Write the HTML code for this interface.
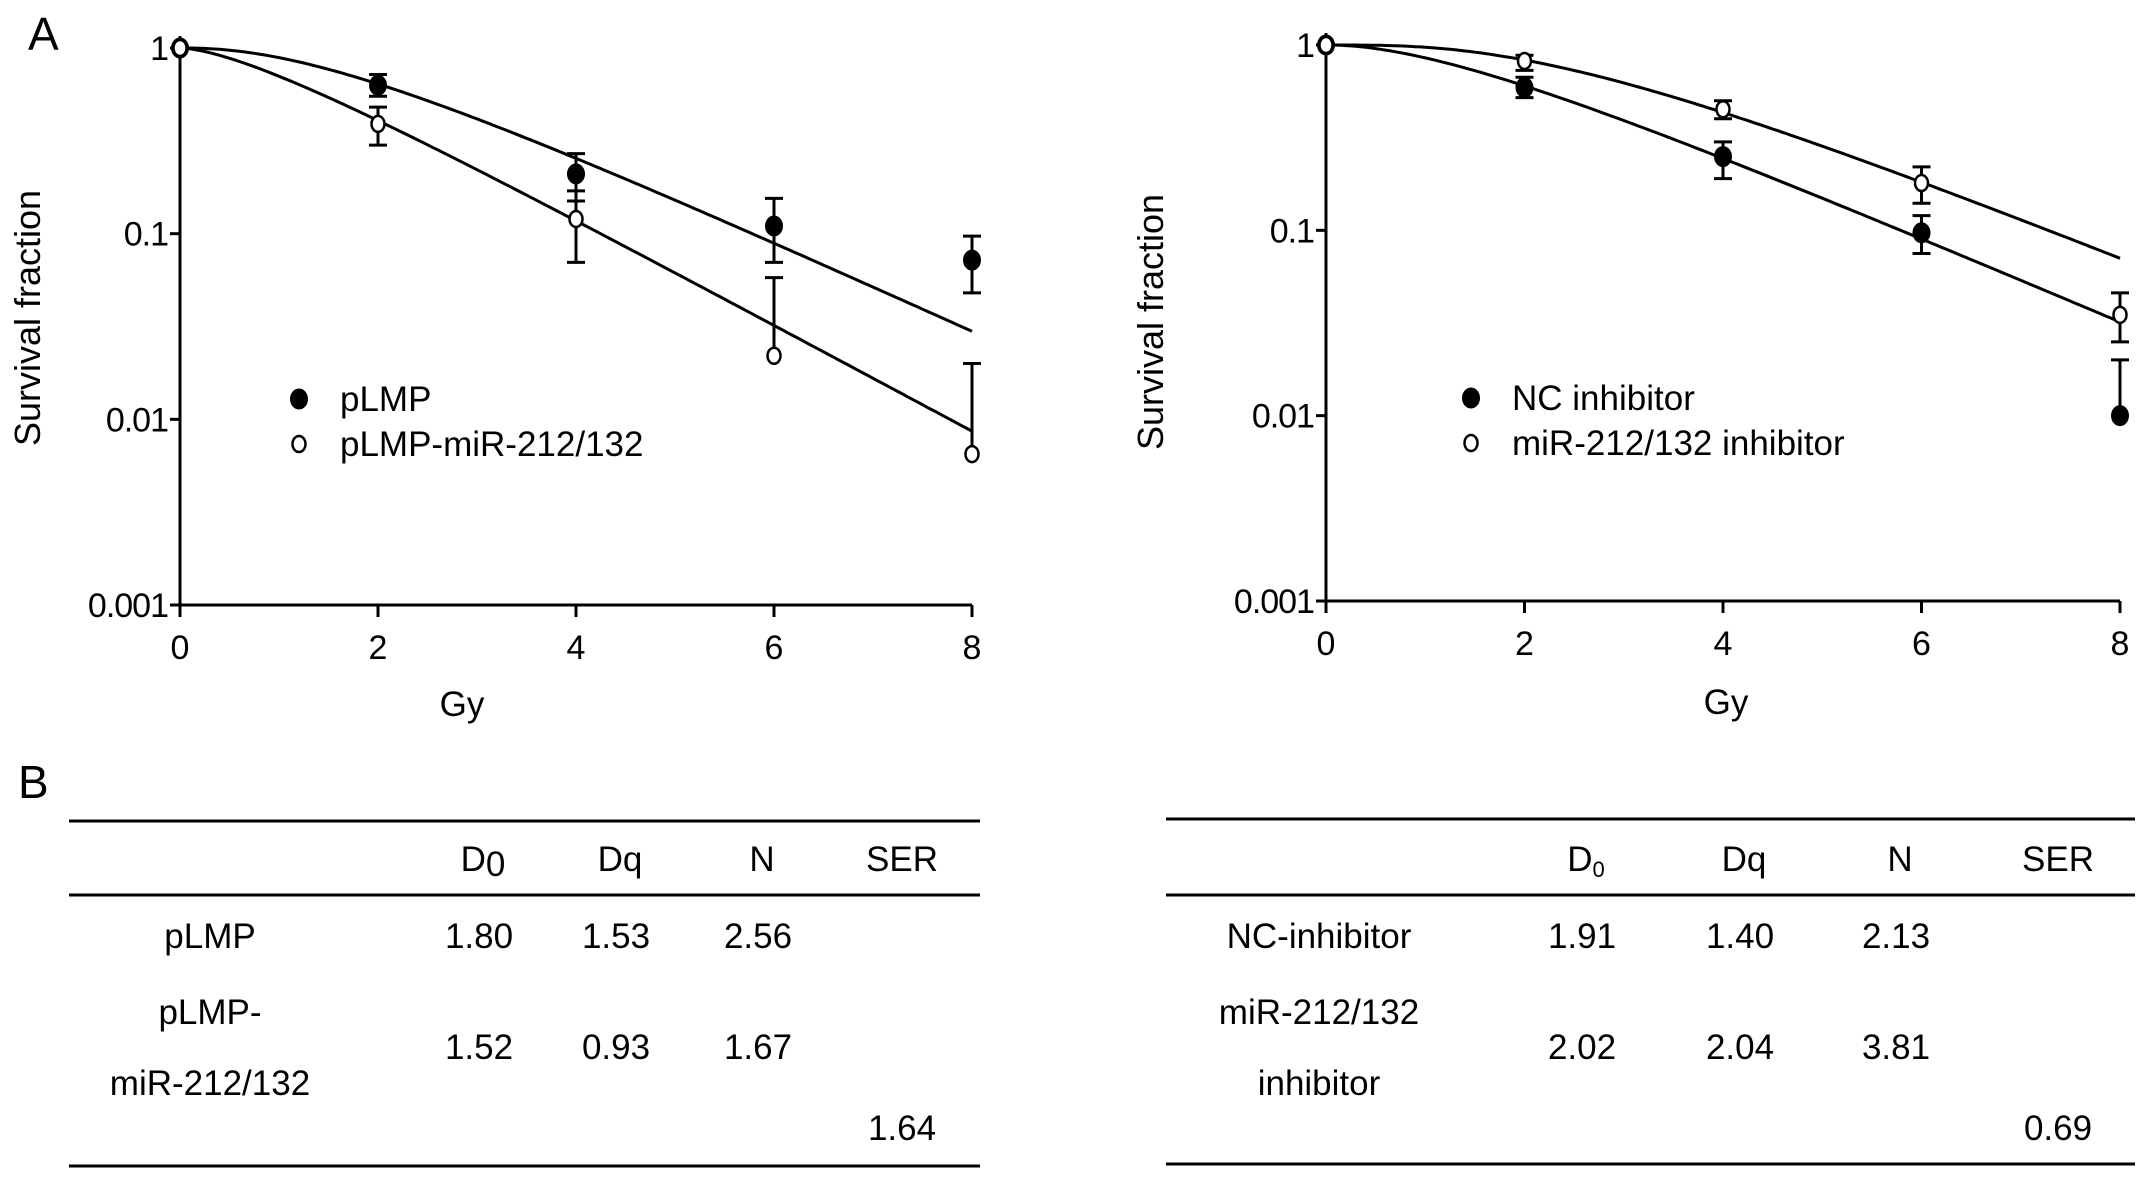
<!DOCTYPE html>
<html><head><meta charset="utf-8"><style>
html,body{margin:0;padding:0;background:#fff}
svg{display:block;font-family:"Liberation Sans",Arial,sans-serif}
</style></head><body>
<svg id="fig" width="2150" height="1178" viewBox="0 0 2150 1178">
<text x="28" y="50" font-size="46">A</text>
<text x="18" y="798" font-size="46">B</text>
<g id="tables" font-size="35" text-anchor="middle"></g>
</svg>
<script>
// ---- chart data ----
const doses = [0, 2, 4, 6, 8];
const xTicks = [0, 2, 4, 6, 8];
const yTicks = [1, 0.1, 0.01, 0.001];
const yTickLabels = ["1", "0.1", "0.01", "0.001"];
// Left panel
const leftNames = ["pLMP", "pLMP-miR-212/132"];
const pLMP = [1, 0.63, 0.21, 0.11, 0.072];
const pLMPHi = [null, 0.72, 0.27, 0.155, 0.097];
const pLMPLo = [null, 0.55, 0.15, 0.07, 0.048];
const pLMPmiR = [1, 0.39, 0.12, 0.022, 0.0065];
const pLMPmiRHi = [null, 0.48, 0.17, 0.058, 0.020];
const pLMPmiRLo = [null, 0.30, 0.07, null, null];
const leftD0 = [1.80, 1.52];
const leftN = [2.56, 1.67];
// Right panel
const rightNames = ["NC inhibitor", "miR-212/132 inhibitor"];
const nc = [1, 0.59, 0.25, 0.097, 0.010];
const ncHi = [null, 0.67, 0.30, 0.12, 0.020];
const ncLo = [null, 0.52, 0.19, 0.075, null];
const inh = [1, 0.82, 0.45, 0.18, 0.035];
const inhHi = [null, 0.88, 0.50, 0.22, 0.046];
const inhLo = [null, 0.73, 0.40, 0.14, 0.025];
const rightD0 = [1.91, 2.02];
const rightN = [2.13, 3.81];

const NS = "http://www.w3.org/2000/svg";
const svg = document.getElementById('fig');
function mk(tag, attrs, parent, text){
  const e = document.createElementNS(NS, tag);
  for (const k in attrs) e.setAttribute(k, attrs[k]);
  if (text !== undefined) e.textContent = text;
  (parent || svg).appendChild(e);
  return e;
}

function panel(cfg){
  const g = mk('g', {});
  
  
  const X = d => cfg.x0 + (cfg.x1 - cfg.x0) * d / 8;
  const Y = v => cfg.y1 + (cfg.y3 - cfg.y1) * (-Math.log10(v)) / 3;
  const ax = mk('line', {x1: cfg.x0, y1: cfg.y1 - 12, x2: cfg.x0, y2: Y(0.001), stroke: '#000', 'stroke-width': 3}, g);
  
  
  const bx = mk('line', {x1: cfg.x0 - 10, y1: Y(0.001), x2: cfg.x1, y2: Y(0.001), stroke: '#000', 'stroke-width': 3}, g);
  
  
  yTicks.forEach((t, i) => {
    mk('line', {x1: cfg.x0 - 10, y1: Y(t), x2: cfg.x0, y2: Y(t), stroke: '#000', 'stroke-width': 3}, g);
    const tl = mk('text', {x: cfg.x0 - 12, y: Y(t) + 12, 'font-size': 34, 'text-anchor': 'end', 'letter-spacing': '-1'}, g, yTickLabels[i]);
    
    
  });
  xTicks.forEach(t => {
    mk('line', {x1: X(t), y1: Y(0.001), x2: X(t), y2: Y(0.001) + 12, stroke: '#000', 'stroke-width': 3}, g);
    const tl = mk('text', {x: X(t), y: Y(0.001) + 54, 'font-size': 34, 'text-anchor': 'middle'}, g, String(t));
    
    
  });
  const xt = mk('text', {x: cfg.gyX, y: cfg.gyY, 'font-size': 35, 'text-anchor': 'middle'}, g, 'Gy');
  
  
  const yt = mk('text', {x: 0, y: 0, 'font-size': 36, 'text-anchor': 'middle', transform: `translate(${cfg.ytX},${cfg.ytY}) rotate(-90)`}, g, 'Survival fraction');
  
  
  cfg.series.forEach((s, si) => {
    let d = '';
    for (let k = 0; k <= 160; k++) {
      const dose = 8 * k / 160;
      const v = 1 - Math.pow(1 - Math.exp(-dose / s.D0), s.N);
      d += (k ? 'L' : 'M') + X(dose).toFixed(1) + ' ' + Y(Math.max(v, 1e-4)).toFixed(1);
    }
    const p = mk('path', {d: d, fill: 'none', stroke: '#000', 'stroke-width': 3}, g);
    
    
  });
  cfg.series.forEach((s, si) => {
    s.vals.forEach((v, i) => {
      const x = X(doses[i]);
      const hi = s.hi[i], lo = s.lo[i];
      if (hi !== null || lo !== null) {
        const top = hi !== null ? Y(hi) : Y(v);
        const bot = lo !== null ? Y(lo) : Y(v);
        const eb = mk('path', {d: `M${x} ${top}L${x} ${bot}` + (hi !== null ? `M${x - 9} ${top}L${x + 9} ${top}` : '') + (lo !== null ? `M${x - 9} ${bot}L${x + 9} ${bot}` : ''), stroke: '#000', 'stroke-width': 3, fill: 'none'}, g);
        
        
      }
      const c = mk('ellipse', {cx: x, cy: Y(v), rx: s.open ? 6.5 : 8.5, ry: s.open ? 8 : 10, fill: s.open ? '#fff' : '#000', stroke: '#000', 'stroke-width': s.open ? 2.5 : 1}, g);
      
      
    });
  });
  cfg.series.forEach((s, si) => {
    const ly = cfg.legY + si * 45;
    const m = mk('ellipse', {cx: cfg.legX, cy: ly, rx: s.open ? 6.5 : 8.5, ry: s.open ? 8 : 10, fill: s.open ? '#fff' : '#000', stroke: '#000', 'stroke-width': s.open ? 2.5 : 1}, g);
    
    
    const t = mk('text', {x: cfg.legX + 41, y: ly + 12, 'font-size': 35}, g, s.label);
    
    
  });
}

panel({name: 'left-survival-chart', x0: 180, x1: 972, y1: 48, y3: 605, gyX: 462, gyY: 716, ytX: 40, ytY: 318, legX: 299, legY: 399,
  series: [
    {label: leftNames[0], vals: pLMP, hi: pLMPHi, lo: pLMPLo, D0: leftD0[0], N: leftN[0], open: false},
    {label: leftNames[1], vals: pLMPmiR, hi: pLMPmiRHi, lo: pLMPmiRLo, D0: leftD0[1], N: leftN[1], open: true}]});
panel({name: 'right-survival-chart', x0: 1326, x1: 2120, y1: 45, y3: 601, gyX: 1726, gyY: 714, ytX: 1163, ytY: 322, legX: 1471, legY: 398,
  series: [
    {label: rightNames[0], vals: nc, hi: ncHi, lo: ncLo, D0: rightD0[0], N: rightN[0], open: false},
    {label: rightNames[1], vals: inh, hi: inhHi, lo: inhLo, D0: rightD0[1], N: rightN[1], open: true}]});

// ---- tables ----
const tg = document.getElementById('tables');
function T(x, y, s, name){
  const t = mk('text', {x: x, y: y}, tg, s);
  
  
  return t;
}
function L(x1, x2, y, name){
  const l = mk('line', {x1: x1, x2: x2, y1: y, y2: y, stroke: '#000', 'stroke-width': 3}, tg);
  
  
}
function table(o){
  L(o.xa, o.xb, o.yTop, 'table-top-rule');
  L(o.xa, o.xb, o.yMid, 'table-header-rule');
  L(o.xa, o.xb, o.yBot, 'table-bottom-rule');
  const h = T(o.cols[0], 871, 'D', 'header-d0');
  mk('tspan', {'font-size': o.subSize, dy: o.subDy}, h, '0');
  T(o.cols[1], 871, 'Dq', 'header-dq');
  T(o.cols[2], 871, 'N', 'header-n');
  T(o.cols[3], 871, 'SER', 'header-ser');
  T(o.labX, 948, o.r1, 'row-label');
  o.v1.forEach((v, i) => T(o.cols[i] - 4, 948, v, 'cell-value'));
  T(o.labX, 1024, o.r2a, 'row-label');
  T(o.labX, 1095, o.r2b, 'row-label');
  o.v2.forEach((v, i) => T(o.cols[i] - 4, 1059, v, 'cell-value'));
  T(o.cols[3], 1140, o.ser, 'ser-value');
}
table({xa: 69, xb: 980, yTop: 821, yMid: 895, yBot: 1166, cols: [483, 620, 762, 902], labX: 210, subSize: 35, subDy: 5,
  r1: 'pLMP', r2a: 'pLMP-', r2b: 'miR-212/132', v1: ['1.80', '1.53', '2.56'], v2: ['1.52', '0.93', '1.67'], ser: '1.64'});
table({xa: 1166, xb: 2135, yTop: 819, yMid: 895, yBot: 1164, cols: [1586, 1744, 1900, 2058], labX: 1319, subSize: 22, subDy: 6,
  r1: 'NC-inhibitor', r2a: 'miR-212/132', r2b: 'inhibitor', v1: ['1.91', '1.40', '2.13'], v2: ['2.02', '2.04', '3.81'], ser: '0.69'});
</script>
</body></html>
